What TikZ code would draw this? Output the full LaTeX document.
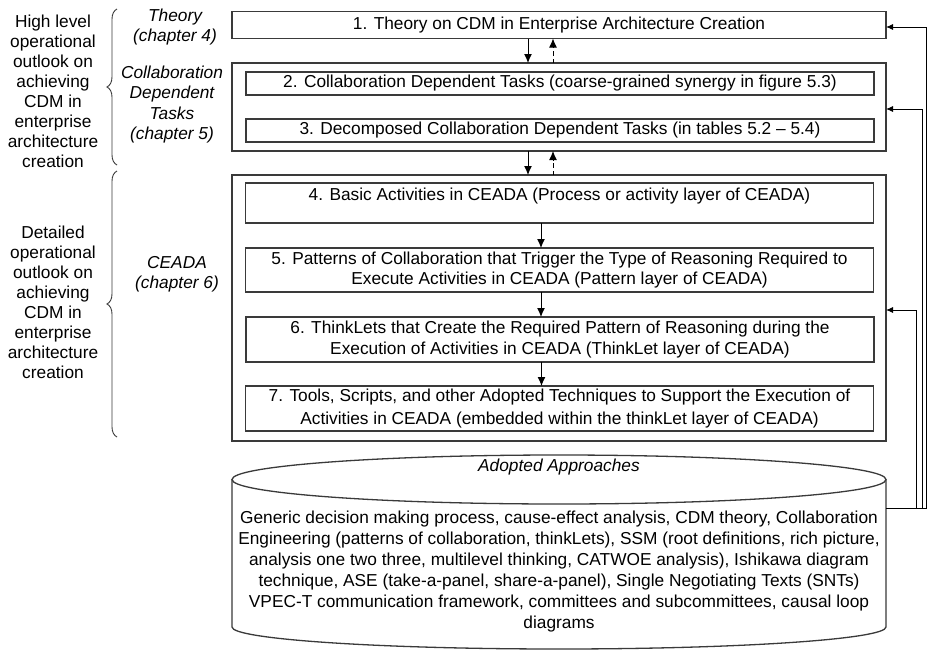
\documentclass[tikz,border=0pt]{standalone}
\usepackage{fontspec}
\setmainfont{Liberation Sans}
\usetikzlibrary{arrows.meta,decorations.pathreplacing}
\definecolor{edge}{HTML}{3A3A3A}
\begin{document}
\begin{tikzpicture}[x=1pt,y=-1pt,
  every node/.style={inner sep=0pt,outer sep=0pt,font=\fontsize{17.3}{20}\selectfont},
  frame/.style={draw=edge,line width=1.3pt},
  outerbox/.style={frame,minimum width=654pt},
  innerbox/.style={frame,minimum width=628pt,align=center},
  lbl/.style={align=center,font=\fontsize{17.3}{20}\selectfont},
  chap/.style={align=center,font=\fontsize{17.3}{20.5}\selectfont\itshape},
  flow/.style={draw=black,line width=1pt,-{Latex[length=9pt,width=8pt]}},
  back/.style={flow,dash pattern=on 4.5pt off 3pt},
  feed/.style={draw=black,line width=0.9pt,-{Latex[length=7pt,width=6pt]}},
  bracket/.style={draw=edge,line width=0.9pt,decorate,decoration={brace,amplitude=10pt}}]

\useasboundingbox (0,0) rectangle (927,651);
\fill[white] (0,0) rectangle (927,651);

% theory layer
\node[outerbox,minimum height=27pt] (b1) at (559,25)
  {1. Theory on CDM in Enterprise Architecture Creation};

% collaboration dependent tasks
\node[outerbox,minimum height=88pt] (g23) at (559,107) {};
\node[innerbox,minimum height=23pt] (b2) at (560,83.5)
  {2. Collaboration Dependent Tasks (coarse-grained synergy in figure 5.3)};
\node[innerbox,minimum height=23pt] (b3) at (560,130.5)
  {3. Decomposed Collaboration Dependent Tasks (in tables 5.2 -- 5.4)};

% CEADA layers
\node[outerbox,minimum height=266pt] (g47) at (559,308) {};
\node[innerbox,minimum height=40pt] (b4) at (559.5,203) {};
\node (t4) at (559.5,196)
  {4. Basic Activities in CEADA (Process or activity layer of CEADA)};
\node[innerbox,minimum height=44pt] (b5) at (559.5,270)
  {5. Patterns of Collaboration that Trigger the Type of Reasoning Required to\\
   Execute Activities in CEADA (Pattern layer of CEADA)};
\node[innerbox,minimum height=45pt,font=\fontsize{17.3}{21}\selectfont] (b6) at (560,339.5)
  {6. ThinkLets that Create the Required Pattern of Reasoning during the\\
   Execution of Activities in CEADA (ThinkLet layer of CEADA)};
\node[innerbox,minimum height=45pt,font=\fontsize{17.3}{23}\selectfont] (b7) at (559.5,408.5)
  {7. Tools, Scripts, and other Adopted Techniques to Support the Execution of\\
   Activities in CEADA (embedded within the thinkLet layer of CEADA)};

% adopted approaches store
\draw[frame,fill=white] (559,479.5) ellipse [x radius=327pt, y radius=24.5pt];
\draw[frame] (232,479.5) -- (232,627)
  arc[start angle=180, end angle=360, x radius=327pt, y radius=22pt] -- (886,479.5);
\node[font=\fontsize{17.3}{20}\selectfont\itshape] (aa) at (559,467) {Adopted Approaches};
\node[align=center,font=\fontsize{17.3}{21}\selectfont] (ab) at (559,572)
  {Generic decision making process, cause-effect analysis, CDM theory, Collaboration\\
   Engineering (patterns of collaboration, thinkLets), SSM (root definitions, rich picture,\\
   analysis one two three, multilevel thinking, CATWOE analysis), Ishikawa diagram\\
   technique, ASE (take-a-panel, share-a-panel), Single Negotiating Texts (SNTs)\\
   VPEC-T communication framework, committees and subcommittees, causal loop\\
   diagrams};

% flow between layers
\draw[flow] ([xshift=-31pt]b1.south) -- ([xshift=-31pt]b1.south |- g23.north);
\draw[back] ([xshift=-6pt]b1.south |- g23.north) -- ([xshift=-6pt]b1.south);
\draw[flow] ([xshift=-31pt]g23.south) -- ([xshift=-31pt]g23.south |- g47.north);
\draw[back] ([xshift=-6pt]g23.south |- g47.north) -- ([xshift=-6pt]g23.south);
\draw[flow] ([xshift=-18.5pt]b4.south) -- ([xshift=-18.5pt]b4.south |- b5.north);
\draw[flow] ([xshift=-18.5pt]b5.south) -- ([xshift=-18.5pt]b5.south |- b6.north);
\draw[flow] ([xshift=-18.5pt]b6.south) -- ([xshift=-18.5pt]b6.south |- b7.north);

% feedback from the adopted approaches
\coordinate (fb) at (886,508);
\coordinate (r1) at (926,0);
\coordinate (r2) at (922,0);
\coordinate (r3) at (916,0);
\draw[feed] (fb) -- (r1 |- fb) |- ([yshift=-2pt]b1.east);
\draw[feed] (fb) -- (r2 |- fb) |- ([yshift=-2pt]g23.east);
\draw[feed] (fb) -- (r3 |- fb) |- ([yshift=-2pt]g47.east);

% side labels
\node[chap] (c4) at (175,27) {Theory\\(chapter 4)};
\node[chap] (c5) at (172,104.5) {Collaboration\\Dependent\\Tasks\\(chapter 5)};
\node[chap] (c6) at (177,274.5) {CEADA\\(chapter 6)};

\coordinate (u1) at (117,165);
\coordinate (u2) at (117,9);
\coordinate (d1) at (117,437);
\coordinate (d2) at (117,171);
\draw[bracket] (u1) -- (u2);
\draw[bracket] (d1) -- (d2);

\node[lbl] (hl) at (53,91)
  {High level\\operational\\outlook on\\achieving\\CDM in\\enterprise\\architecture\\creation};
\node[lbl] (dl) at (53,302)
  {Detailed\\operational\\outlook on\\achieving\\CDM in\\enterprise\\architecture\\creation};
\end{tikzpicture}
\end{document}
